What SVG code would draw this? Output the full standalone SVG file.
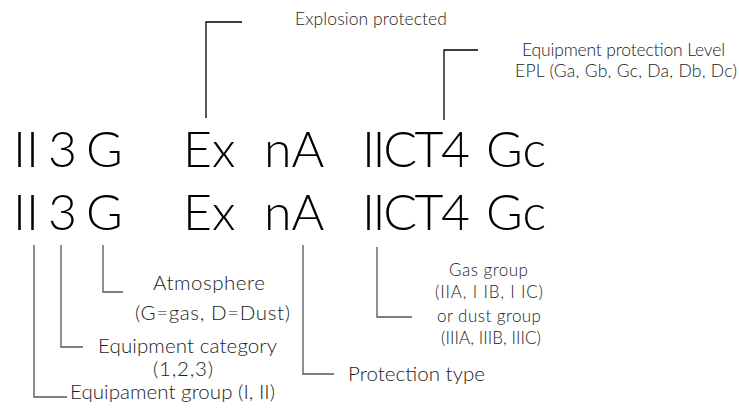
<svg xmlns="http://www.w3.org/2000/svg" width="739" height="410" viewBox="0 0 739 410">
<style>
.big{font-family:Lato,"Open Sans","Liberation Sans",sans-serif;font-weight:300;font-size:50px;fill:#000}
.lbl{font-family:Lato,"Open Sans","Liberation Sans",sans-serif;font-weight:300;font-size:20.5px;fill:#222}
.top{font-family:Lato,"Open Sans","Liberation Sans",sans-serif;font-weight:300;font-size:17.5px;fill:#222}
.sm{font-family:Lato,"Open Sans","Liberation Sans",sans-serif;font-weight:300;font-size:17px;fill:#222}
.ln{fill:none;stroke:#000;stroke-width:1.3}
.lg{fill:none;stroke:#555;stroke-width:1.3}
</style>
<rect width="739" height="410" fill="#fff"/>
<g id="code-row1">
<text class="big" x="13" y="167">II</text>
<text class="big" x="48" y="167">3</text>
<text class="big" x="86" y="167">G</text>
<text class="big" x="183" y="167">Ex</text>
<text class="big" x="264" y="167">nA</text>
<text class="big" x="362" y="167" textLength="108">IICT4</text>
<text class="big" x="486" y="167">Gc</text>
</g>
<g id="code-row2">
<text class="big" x="13" y="230">II</text>
<text class="big" x="48" y="230">3</text>
<text class="big" x="86" y="230">G</text>
<text class="big" x="183" y="230">Ex</text>
<text class="big" x="264" y="230">nA</text>
<text class="big" x="362" y="230" textLength="108">IICT4</text>
<text class="big" x="486" y="230">Gc</text>
</g>
<g id="connectors">
<path class="ln" d="M206,118V22H242"/>
<path class="ln" d="M444,120V50H478"/>
<path class="lg" d="M34,245V397H67"/>
<path class="lg" d="M61,245V347H83"/>
<path class="lg" d="M103,245V292H123"/>
<path class="lg" d="M303,245V374H334"/>
<path class="lg" d="M377,247V317H412"/>
</g>
<g id="explosion-protected"><text class="top" x="295" y="25" textLength="152">Explosion protected</text></g>
<g id="epl">
<text class="top" x="522" y="56" textLength="203">Equipment protection Level</text>
<text class="top" x="515" y="77" textLength="222">EPL (Ga, Gb, Gc, Da, Db, Dc)</text>
</g>
<g id="atmosphere">
<text class="lbl" x="153" y="290" textLength="112">Atmosphere</text>
<text class="lbl" x="135" y="320" textLength="155">(G=gas, D=Dust)</text>
</g>
<g id="equipment-category">
<text class="lbl" x="98" y="353" textLength="179">Equipment category</text>
<text class="lbl" x="153" y="376" textLength="60">(1,2,3)</text>
</g>
<g id="equipment-group"><text class="lbl" x="70" y="399" textLength="205">Equipament group (I, II)</text></g>
<g id="protection-type"><text class="lbl" x="348" y="381" textLength="137">Protection type</text></g>
<g id="gas-group">
<text class="sm" x="449" y="276" textLength="79">Gas group</text>
<text class="sm" x="435" y="298" textLength="108">(IIA, I IB, I IC)</text>
<text class="sm" x="437" y="322" textLength="104">or dust group</text>
<text class="sm" x="441" y="344" textLength="100">(IIIA, IIIB, IIIC)</text>
</g>
</svg>
